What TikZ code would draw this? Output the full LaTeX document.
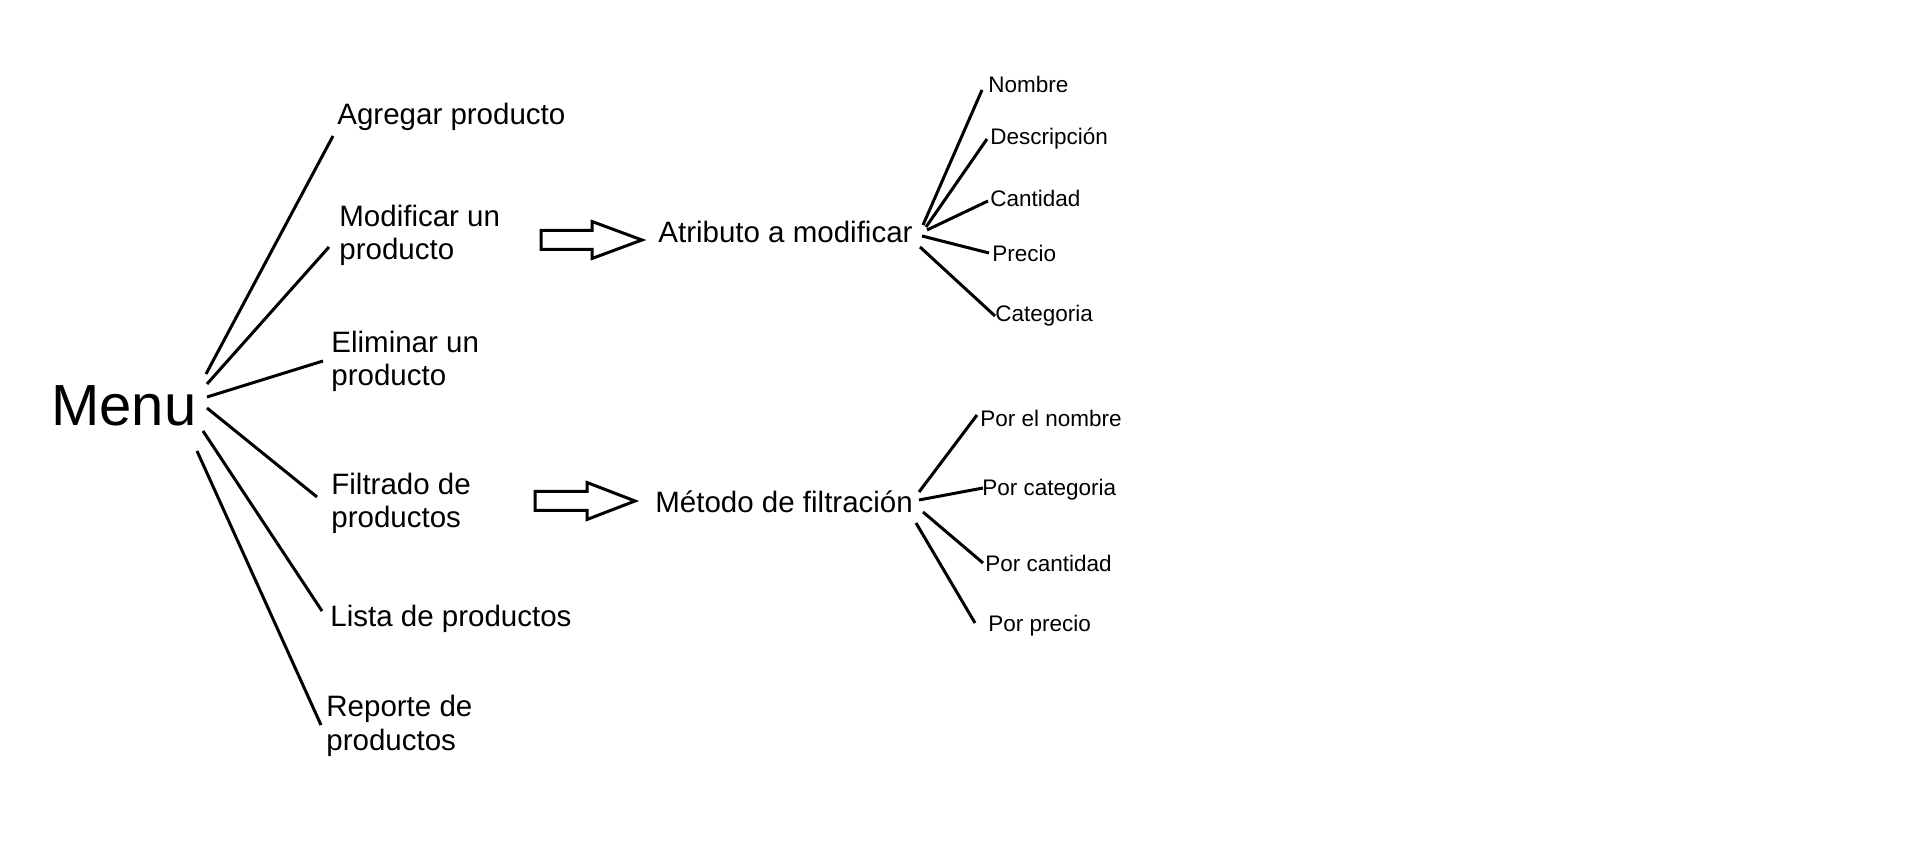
\documentclass[tikz,border=0pt]{standalone}
\usepackage{fontspec}
\setmainfont{Liberation Sans}
\begin{document}
\begin{tikzpicture}[x=0.5pt,y=-0.5pt,
  bigtext/.style={font=\fontsize{29pt}{34pt}\selectfont, inner sep=0pt, anchor=base west},
  maintext/.style={font=\fontsize{14.75pt}{16.9pt}\selectfont, inner sep=0pt, anchor=base west, align=left},
  smalltext/.style={font=\fontsize{11.25pt}{13pt}\selectfont, inner sep=0pt, anchor=base west},
  link/.style={line width=1.5pt},
  blockarrow/.style={line width=1.5pt, fill=white, line join=miter}]
\fill[white] (0,0) rectangle (1914,854);
\useasboundingbox (0,0) rectangle (1914,854);

% left level (multi-line nodes are placed by the baseline of their last line)
\node[bigtext] (menu) at (51,426) {Menu};
\node[maintext] (agregar) at (337,125) {Agregar producto};
\node[maintext] (modificar) at (339,260) {Modificar un\\producto};
\node[maintext] (eliminar) at (331,386) {Eliminar un\\producto};
\node[maintext] (filtrado) at (331,528) {Filtrado de\\productos};
\node[maintext] (lista) at (330,626) {Lista de productos};
\node[maintext] (reporte) at (326,750) {Reporte de\\productos};

% middle level
\node[maintext] (atributo) at (658,243) {Atributo a modificar};
\node[maintext] (metodo) at (655,513) {Método de filtración};

% right level
\node[smalltext] (nombre) at (988,93) {Nombre};
\node[smalltext] (descripcion) at (990,145) {Descripción};
\node[smalltext] (cantidad) at (990,207) {Cantidad};
\node[smalltext] (precio) at (992,262) {Precio};
\node[smalltext] (categoria) at (995,322) {Categoria};
\node[smalltext] (pnombre) at (980,427) {Por el nombre};
\node[smalltext] (pcategoria) at (982,496) {Por categoria};
\node[smalltext] (pcantidad) at (985,572) {Por cantidad};
\node[smalltext] (pprecio) at (988,631) {Por precio};

% Menu connectors
\draw[link] ([shift={(155,-52)}]menu.base west) -- ([shift={(-4,11)}]agregar.base west);
\draw[link] ([shift={(156,-42)}]menu.base west) -- ([shift={(-10,-13)}]modificar.base west);
\draw[link] ([shift={(156,-29)}]menu.base west) -- ([shift={(-8,-25)}]eliminar.base west);
\draw[link] ([shift={(156,-18)}]menu.base west) -- ([shift={(-14,-31)}]filtrado.base west);
\draw[link] ([shift={(152,5)}]menu.base west) -- ([shift={(-8,-15)}]lista.base west);
\draw[link] ([shift={(146,25)}]menu.base west) -- ([shift={(-5,-25)}]reporte.base west);

% Atributo connectors
\draw[link] ([shift={(265,-18)}]atributo.base west) -- ([shift={(-6,-3)}]nombre.base west);
\draw[link] ([shift={(268,-16)}]atributo.base west) -- ([shift={(-3,-6)}]descripcion.base west);
\draw[link] ([shift={(269,-13)}]atributo.base west) -- ([shift={(-2,-6)}]cantidad.base west);
\draw[link] ([shift={(264,-7)}]atributo.base west) -- ([shift={(-3,-9)}]precio.base west);
\draw[link] ([shift={(262,4)}]atributo.base west) -- ([shift={(0,-6)}]categoria.base west);

% Metodo connectors
\draw[link] ([shift={(264,-21)}]metodo.base west) -- ([shift={(-3,-12)}]pnombre.base west);
\draw[link] ([shift={(264,-13)}]metodo.base west) -- ([shift={(1,-8)}]pcategoria.base west);
\draw[link] ([shift={(268,-1)}]metodo.base west) -- ([shift={(-2,-9)}]pcantidad.base west);
\draw[link] ([shift={(261,10)}]metodo.base west) -- ([shift={(-13,-8)}]pprecio.base west);

% block arrows
\coordinate (tipA) at ([shift={(-16,-3)}]atributo.base west);
\coordinate (tipB) at ([shift={(-20,-12)}]metodo.base west);
\draw[blockarrow] (tipA) -- ++(-50,-18.5) -- ++(0,9) -- ++(-51,0) -- ++(0,19) -- ++(51,0) -- ++(0,9) -- cycle;
\draw[blockarrow] (tipB) -- ++(-48,-18.5) -- ++(0,9) -- ++(-52,0) -- ++(0,19) -- ++(52,0) -- ++(0,9) -- cycle;
\end{tikzpicture}
\end{document}
